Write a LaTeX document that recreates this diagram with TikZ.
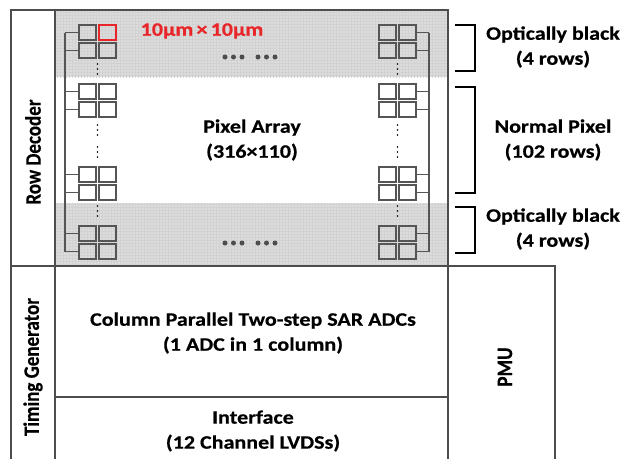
\documentclass[tikz,border=0pt]{standalone}
\usepackage{fontspec}
\setmainfont{Carlito}
\newfontfamily\widefont{Carlito}[FakeStretch=1.16,BoldFeatures={FakeBold=0.5}]
\newfontfamily\rotfont{Carlito}[BoldFeatures={FakeBold=0.5}]
\usetikzlibrary{patterns}
\definecolor{ln}{HTML}{4D4D4D}
\definecolor{bx}{HTML}{555555}
\definecolor{rd}{HTML}{E8262A}
\definecolor{sh}{HTML}{DCDCDC}
\newcommand{\tallbox}[1]{\scalebox{1}[1.16]{#1}}
\begin{document}
\begin{tikzpicture}[x=1pt,y=-1pt,
  frame/.style={draw=ln,line width=2pt},
  pix/.style={draw=bx,line width=1.4pt,minimum width=17pt,minimum height=15pt,inner sep=0pt,outer sep=0pt},
  redpix/.style={pix,draw=rd},
  stub/.style={draw=bx,line width=1.4pt},
  brk/.style={draw=black,line width=1.8pt},
  lbl/.style={font=\widefont\fontsize{19}{25}\selectfont\bfseries,align=center,text=black},
  vlbl/.style={font=\rotfont\fontsize{19}{24}\selectfont\bfseries,text=black,rotate=90},
  vdot/.style={fill=black,circle,inner sep=0pt,minimum size=1.8pt},
  hdot/.style={fill=ln,circle,inner sep=0pt,minimum size=5pt},
  shade/.style={fill=sh}]
\useasboundingbox (0,0) rectangle (622,459);
% shaded regions
\fill[shade] (55,10) rectangle (448,77);
\fill[shade] (55,203) rectangle (448,266);
\fill[pattern=grid,pattern color=gray!35] (55,10) rectangle (448,77);
\fill[pattern=grid,pattern color=gray!35] (55,203) rectangle (448,266);
% frames
\draw[frame] (11,10) rectangle (55,266);
\draw[frame] (55,10) rectangle (448,266);
\draw[frame] (11,459) -- (11,266) -- (55,266) -- (55,459);
\draw[frame] (55,397) -- (448,397);
\draw[frame] (448,459) -- (448,266) -- (555,266) -- (555,459);
% labels in blocks
\node[vlbl] (rowdec) at (33,152) {\tallbox{Row Decoder}};
\node[vlbl] (timgen) at (33,367) {\tallbox{Timing Generator}};
\node[vlbl] (pmu) at (505,367) {\tallbox{PMU}};
\node[lbl] (pixarr) at (252,140) {Pixel Array\\(316×110)};
\node[lbl] (adc) at (253,333) {Column Parallel Two-step SAR ADCs\\(1 ADC in 1 column)};
\node[lbl] (intf) at (253,431) {Interface\\(12 Channel LVDSs)};
\node[lbl,text=rd] (size) at (202,31) {10μm\,×\,10μm};
% pixel groups
\foreach \r/\y in {a/32.5,b/50.5,c/91.5,d/109.5,e/174.5,f/192.5,g/233.5,h/251.5}{
  \node[pix] (L\r1) at (87.5,\y) {};
  \node[pix] (L\r2) at (107.5,\y) {};
  \node[pix] (R\r1) at (387.5,\y) {};
  \node[pix] (R\r2) at (407.5,\y) {};
  \coordinate (LB\r) at (65,\y);
  \coordinate (RB\r) at (429,\y);
  \draw[stub] (LB\r) -- (L\r1.west);
  \draw[stub] (R\r2.east) -- (RB\r);
}
\node[redpix] (red) at (107.5,32.5) {};
\draw[stub] (LBa) -- (LBh);
\draw[stub] (RBa) -- (RBh);
% vertical dots
\foreach \y in {64,69,74,125,130,135,147,152,157,206,211,216}{
  \node[vdot] at (97.5,\y) {};
  \node[vdot] at (397.5,\y) {};
}
% horizontal dots
\foreach \x in {225,233.5,242,258,266.5,275}{
  \node[hdot] at (\x,57) {};
  \node[hdot] at (\x,243) {};
}
% brackets
\coordinate (b1a) at (455,25); \coordinate (b1b) at (455,71);
\coordinate (b2a) at (455,87); \coordinate (b2b) at (455,193);
\coordinate (b3a) at (455,207); \coordinate (b3b) at (455,253);
\draw[brk] (b1a) -- ++(20,0) |- (b1b);
\draw[brk] (b2a) -- ++(20,0) |- (b2b);
\draw[brk] (b3a) -- ++(20,0) |- (b3b);
\node[lbl] (ob1) at (553,47) {Optically black\\(4 rows)};
\node[lbl] (np) at (553,140) {Normal Pixel\\(102 rows)};
\node[lbl] (ob2) at (553,229) {Optically black\\(4 rows)};
\end{tikzpicture}
\end{document}
